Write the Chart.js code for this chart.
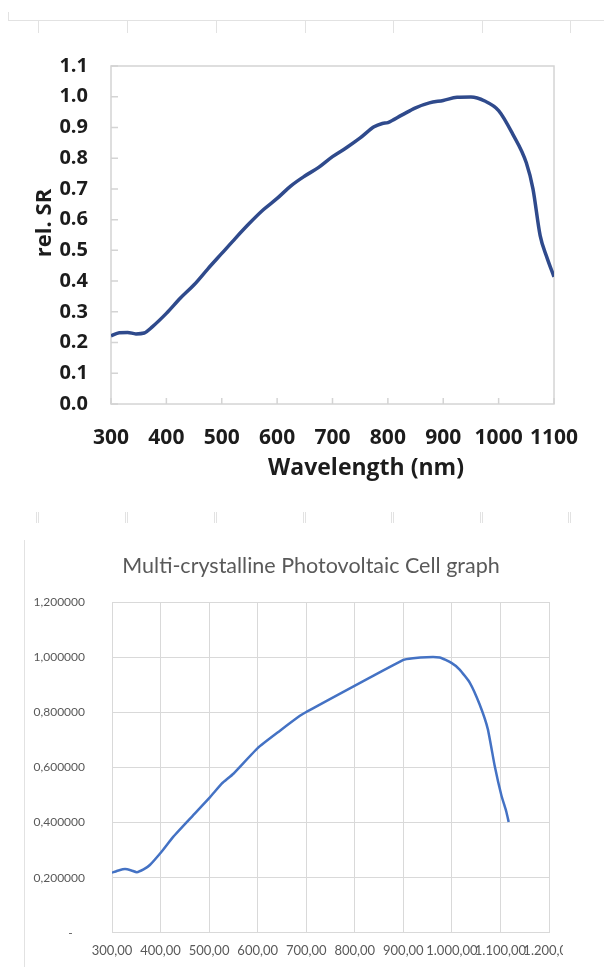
<!DOCTYPE html>
<html>
<head>
    <title>Spectral response</title>
    <script src="https://cdn.jsdelivr.net/npm/chart.js"></script>
    <style>
        body {
            margin: 0;
            background: #ffffff;
            width: 604px;
            height: 967px;
            overflow: hidden;
            position: relative;
        }
        .deco { position: absolute; background: #e2e2e2; }
        #srBox { position: absolute; left: 0; top: 0; width: 604px; height: 490px; }
        #pvBox { position: absolute; left: 0; top: 530px; width: 563px; height: 437px; overflow: hidden; }
    </style>
</head>
<body>
    <div id="srBox"><canvas id="srChart" width="604" height="490"></canvas></div>
    <div id="pvBox"><canvas id="pvChart" width="622" height="437"></canvas></div>

    <script>
        // relative spectral response (upper plot)
        const srWavelength = [300, 315, 330, 345, 360, 375, 400, 425, 450, 475, 500, 525, 550, 575, 600, 625,
            650, 675, 700, 725, 750, 775, 790, 800, 825, 850, 875, 900, 925, 950, 975, 1000, 1025, 1050,
            1062, 1075, 1087, 1100];
        const srValues = [0.222, 0.232, 0.233, 0.228, 0.231, 0.252, 0.295, 0.344, 0.388, 0.440, 0.490, 0.540,
            0.588, 0.632, 0.669, 0.710, 0.742, 0.770, 0.805, 0.834, 0.866, 0.902, 0.913, 0.916, 0.940, 0.964,
            0.980, 0.988, 0.998, 0.999, 0.986, 0.955, 0.880, 0.785, 0.700, 0.548, 0.478, 0.414];
        const srXTitle = 'Wavelength (nm)';
        const srYTitle = 'rel. SR';

        // multi-crystalline cell curve (lower plot)
        const pvWavelength = [300, 315, 327, 340, 351, 365, 378, 402, 426, 467, 502, 526, 550, 600, 646, 687,
            700, 900, 920, 948, 975, 999, 1016, 1037, 1057, 1074, 1088, 1102, 1112, 1117];
        const pvValues = [0.218, 0.227, 0.231, 0.226, 0.220, 0.230, 0.246, 0.294, 0.348, 0.426, 0.492, 0.541,
            0.577, 0.670, 0.733, 0.787, 0.801, 0.990, 0.996, 1.000, 0.999, 0.979, 0.955, 0.907, 0.829, 0.739,
            0.607, 0.498, 0.440, 0.402];
        const pvTitle = 'Multi-crystalline Photovoltaic Cell graph';

        // page ruler marks around the two plots
        const rulerX = [38, 127, 216, 305, 393, 482, 570];
        function addDeco(x, y, w, h) {
            const d = document.createElement('div');
            d.className = 'deco';
            d.style.left = x + 'px'; d.style.top = y + 'px';
            d.style.width = w + 'px'; d.style.height = h + 'px';
            document.body.appendChild(d);
        }
        addDeco(8, 20, 596, 1);
        addDeco(8, 12, 1, 8);
        rulerX.forEach(x => addDeco(x, 20, 1, 13));
        rulerX.forEach(x => { addDeco(x - 2, 512, 1, 11); addDeco(x, 512, 1, 11); });
        addDeco(24, 540, 1, 427);

        // "1.000,00" style numbers
        function fmtNum(v, dec) {
            const parts = v.toFixed(dec).split('.');
            parts[0] = parts[0].replace(/\B(?=(\d{3})+(?!\d))/g, '.');
            return parts.join(',');
        }

        const boldFont = "'Open Sans', sans-serif";
        const thinFont = "Lato, 'Open Sans', sans-serif";

        // box around the plot area with short inward ticks, plus the axis titles
        const framePlugin = {
            id: 'frame',
            beforeDatasetsDraw(chart) {
                const { ctx, chartArea: a, scales } = chart;
                ctx.save();
                ctx.strokeStyle = '#d4d4d4';
                ctx.lineWidth = 1.5;
                ctx.strokeRect(a.left, a.top, a.right - a.left, a.bottom - a.top);
                ctx.beginPath();
                scales.x.ticks.forEach(t => {
                    const px = scales.x.getPixelForValue(t.value);
                    ctx.moveTo(px, a.bottom);
                    ctx.lineTo(px, a.bottom - 6);
                });
                scales.y.ticks.forEach(t => {
                    const py = scales.y.getPixelForValue(t.value);
                    ctx.moveTo(a.left, py);
                    ctx.lineTo(a.left + 7, py);
                });
                ctx.stroke();

                ctx.fillStyle = '#1c1c1c';
                ctx.font = 'bold 23px ' + boldFont;
                ctx.textAlign = 'center';
                ctx.textBaseline = 'middle';
                ctx.fillText(srXTitle, 366, 468);
                ctx.translate(45, 223);
                ctx.rotate(-Math.PI / 2);
                ctx.font = 'bold 22px ' + boldFont;
                ctx.fillText(srYTitle, 0, 0);
                ctx.restore();
            }
        };

        // chart title, set a little right of the canvas middle
        const titlePlugin = {
            id: 'pvTitle',
            afterDraw(chart) {
                const ctx = chart.ctx;
                ctx.save();
                ctx.fillStyle = '#595959';
                ctx.font = '21.5px ' + thinFont;
                ctx.textAlign = 'center';
                ctx.textBaseline = 'middle';
                ctx.fillText(pvTitle, 311, 36);
                ctx.restore();
            }
        };

        new Chart(document.getElementById('srChart'), {
            type: 'line',
            data: {
                datasets: [{
                    data: srWavelength.map((w, i) => ({ x: w, y: srValues[i] })),
                    borderColor: '#2f4a8c',
                    borderWidth: 3.5,
                    pointRadius: 0,
                    cubicInterpolationMode: 'monotone'
                }]
            },
            options: {
                responsive: false,
                animation: false,
                layout: { padding: { top: 66, right: 50, left: 0, bottom: 0 } },
                plugins: { legend: { display: false }, tooltip: { enabled: false } },
                scales: {
                    x: {
                        type: 'linear',
                        min: 300,
                        max: 1100,
                        grid: { display: false, drawTicks: false },
                        border: { display: false },
                        ticks: {
                            stepSize: 100,
                            autoSkip: false,
                            maxRotation: 0,
                            minRotation: 0,
                            padding: 21,
                            color: '#1c1c1c',
                            font: { family: boldFont, size: 21, weight: 'bold' },
                            callback: v => String(v)
                        },
                        afterFit: s => { s.height = 86; }
                    },
                    y: {
                        min: 0,
                        max: 1.1,
                        grid: { display: false, drawTicks: false },
                        border: { display: false },
                        ticks: {
                            stepSize: 0.1,
                            padding: 23,
                            color: '#1c1c1c',
                            font: { family: boldFont, size: 20, weight: 'bold' },
                            callback: v => v.toFixed(1)
                        },
                        afterFit: s => { s.width = 111; }
                    }
                }
            },
            plugins: [framePlugin]
        });

        new Chart(document.getElementById('pvChart'), {
            type: 'line',
            data: {
                datasets: [{
                    data: pvWavelength.map((w, i) => ({ x: w, y: pvValues[i] })),
                    borderColor: '#4472c4',
                    borderWidth: 2.5,
                    pointRadius: 0,
                    tension: 0.15
                }]
            },
            options: {
                responsive: false,
                animation: false,
                layout: { padding: { top: 72, right: 73, left: 0, bottom: 0 } },
                plugins: { legend: { display: false }, tooltip: { enabled: false } },
                scales: {
                    x: {
                        type: 'linear',
                        min: 300,
                        max: 1200,
                        grid: { color: '#d9d9d9', drawTicks: false },
                        border: { color: '#d9d9d9' },
                        ticks: {
                            stepSize: 100,
                            autoSkip: false,
                            maxRotation: 0,
                            padding: 10,
                            color: '#595959',
                            font: { family: thinFont, size: 13 },
                            callback: v => fmtNum(v, 2)
                        },
                        afterFit: s => { s.height = 32; }
                    },
                    y: {
                        min: 0,
                        max: 1.2,
                        grid: { color: '#d9d9d9', drawTicks: false },
                        border: { color: '#d9d9d9' },
                        ticks: {
                            stepSize: 0.2,
                            padding: 27,
                            color: '#595959',
                            font: { family: thinFont, size: 12 },
                            callback: v => v === 0 ? '-    ' : fmtNum(v, 6)
                        },
                        afterFit: s => { s.width = 112; }
                    }
                }
            },
            plugins: [titlePlugin]
        });
    </script>
</body>
</html>
